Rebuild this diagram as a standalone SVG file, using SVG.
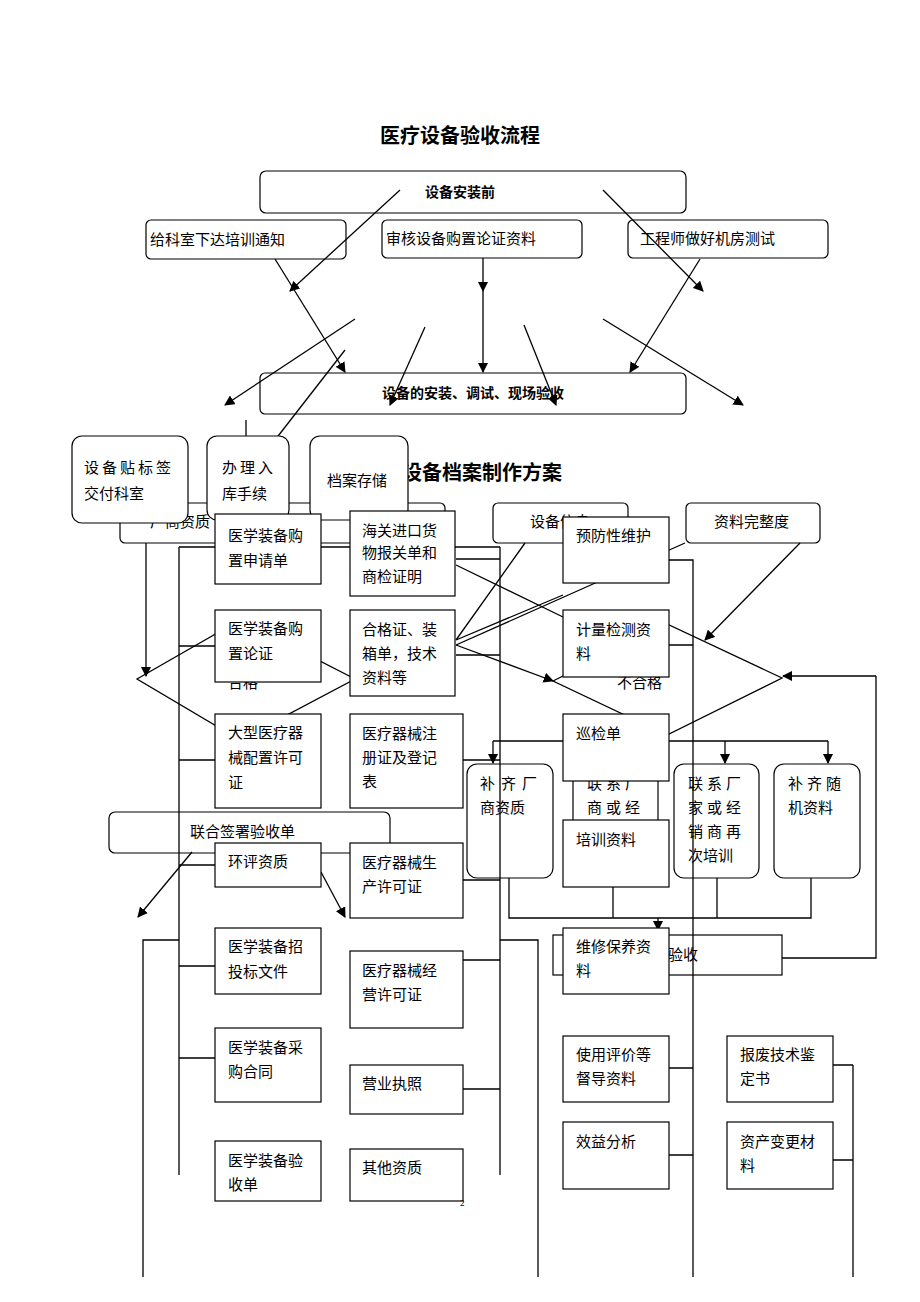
<svg xmlns="http://www.w3.org/2000/svg" width="920" height="1302" viewBox="0 0 920 1302">
<defs><marker id="a" viewBox="0 0 10 10" refX="9" refY="5" markerWidth="8" markerHeight="8" orient="auto"><path d="M0,0L10,5L0,10z" fill="#000"/></marker>
<style>
text{font-family:"Liberation Serif","Noto Sans CJK SC",serif;font-size:15px;fill:#000}
.t{font-family:"Liberation Sans","Noto Sans CJK SC",sans-serif;font-weight:bold;font-size:20px}
.b{font-weight:bold;font-family:"Liberation Sans","Noto Sans CJK SC",sans-serif;font-size:14px}
.r{fill:#fff;stroke:#000;stroke-width:1.2}
.l{stroke:#000;stroke-width:1.3;fill:none}
.ar{stroke:#000;stroke-width:1.3;fill:none;marker-end:url(#a)}
</style></defs>
<rect width="920" height="1302" fill="#fff"/>
<text class="t" x="460" y="143" text-anchor="middle">医疗设备验收流程</text>
<g id="n1"><rect class="r" x="260" y="171" width="426" height="42" rx="6"/><text class="b" x="460" y="197" text-anchor="middle">设备安装前</text></g>
<g id="n2"><rect class="r" x="146" y="220" width="200" height="39" rx="5"/><text x="150" y="245">给科室下达培训通知</text></g>
<g id="n3"><rect class="r" x="382" y="220" width="200" height="38" rx="5"/><text x="386" y="244">审核设备购置论证资料</text></g>
<g id="n4"><rect class="r" x="628" y="220" width="200" height="38" rx="5"/><text x="640" y="244">工程师做好机房测试</text></g>
<g id="n5"><rect class="r" x="260" y="373" width="426" height="41" rx="5"/><text class="b" x="473" y="398" text-anchor="middle">设备的安装、调试、现场验收</text></g>
<text class="t" x="482" y="480" text-anchor="middle">设备档案制作方案</text>
<g id="c1">
<path class="ar" d="M400,190L290,291"/><path class="ar" d="M483,258L483,291"/><path class="ar" d="M603,190L703,291"/>
<path class="ar" d="M275,259L345,372"/><path class="ar" d="M700,259L630,372"/><path class="ar" d="M483,291L483,372"/>
<path class="ar" d="M355,319L225,405"/><path class="ar" d="M425,327L390,405"/><path class="ar" d="M524,325L556,405"/><path class="ar" d="M603,319L743,405"/>
<path class="l" d="M345,350L275,440"/><path class="ar" d="M246,420L246,482"/>
</g>
<g id="hidden">
<rect class="r" x="120" y="503" width="325" height="40" rx="5"/><text x="150" y="527">厂商资质</text>
<rect class="r" x="493" y="503" width="135" height="40" rx="5"/><text x="530" y="527">设备信息</text>
<rect class="r" x="686" y="503" width="134" height="40" rx="5"/><text x="714" y="527">资料完整度</text>
<path class="l" d="M137,679L240,620L355,679L240,740Z"/><text x="228" y="688">合格</text>
<path class="l" d="M553,681L667,624L782,678L667,735Z"/><text x="617" y="688">不合格</text>
<path class="ar" d="M146,543L146,676"/><path class="ar" d="M800,543L705,640"/><path class="ar" d="M456,645L553,681"/>
<path class="l" d="M456,565L563,617M456,640L563,595M456,640L525,543M456,645L685,543"/>
<path class="l" d="M493,741L669,741L828,741"/><path class="ar" d="M493,741L493,763"/><path class="ar" d="M725,741L725,763"/><path class="ar" d="M828,741L828,763"/>
<path class="l" d="M876,676L876,958L782,958"/><path class="ar" d="M876,676L783,676"/>
<rect class="r" x="109" y="812" width="281" height="41" rx="6"/><text x="190" y="837">联合签署验收单</text>
<path class="ar" d="M192,852L138,917"/><path class="ar" d="M321,872L345,917"/>
<rect class="r" x="553" y="935" width="229" height="40"/><text x="668" y="960">验收</text>
<rect class="r" x="467" y="764" width="86" height="114" rx="10"/><text x="480" y="789" letter-spacing="6">补齐厂</text><text x="480" y="813">商资质</text>
<rect class="r" x="573" y="764" width="85" height="114" rx="10"/><text x="587" y="789" letter-spacing="4">联系厂</text><text x="587" y="813" letter-spacing="4">商或经</text>
<rect class="r" x="674" y="764" width="85" height="114" rx="10"/><text x="688" y="789" letter-spacing="4">联系厂</text><text x="688" y="813" letter-spacing="4">家或经</text><text x="688" y="837" letter-spacing="4">销商再</text><text x="688" y="861">次培训</text>
<rect class="r" x="774" y="764" width="86" height="114" rx="10"/><text x="788" y="789" letter-spacing="4">补齐随</text><text x="788" y="813">机资料</text>
<path class="l" d="M509,878L509,918L811,918L811,878M613,887L613,918M717,878L717,918"/><path class="ar" d="M658,918L658,930"/>
<rect class="r" x="72" y="436" width="116" height="87" rx="10"/><text x="84" y="473" letter-spacing="3">设备贴标签</text><text x="84" y="499">交付科室</text>
<rect class="r" x="207" y="436" width="82" height="84" rx="10"/><text x="222" y="473" letter-spacing="3">办理入</text><text x="222" y="499">库手续</text>
<rect class="r" x="310" y="436" width="98" height="84" rx="10"/><text x="327" y="486">档案存储</text>
</g>
<g id="c2">
<path class="l" d="M179,547L500,547M179,547L179,1175M179,646L215,646M179,760L215,760M179,865L215,865M179,966L215,966M179,1058L215,1058M500,547L500,1175M456,559L500,559M456,655L500,655M463,760L500,760M463,880L500,880M463,960L500,960M463,1089L500,1089"/>
<path class="l" d="M143,1277L143,940L179,940M538,1277L538,940L500,940M669,560L693,560L693,1277M669,645L693,645M669,1068L693,1068M669,1155L693,1155M853,1065L853,1277M833,1065L853,1065M833,1160L853,1160"/>
</g>
<g id="A1"><rect class="r" x="215" y="514" width="106" height="70"/><text x="228" y="541">医学装备购</text><text x="228" y="566">置申请单</text></g>
<g id="A2"><rect class="r" x="215" y="610" width="106" height="72"/><text x="228" y="634">医学装备购</text><text x="228" y="659">置论证</text></g>
<g id="A3"><rect class="r" x="215" y="714" width="106" height="94"/><text x="228" y="738">大型医疗器</text><text x="228" y="763">械配置许可</text><text x="228" y="788">证</text></g>
<g id="A4"><rect class="r" x="215" y="843" width="106" height="44"/><text x="228" y="867">环评资质</text></g>
<g id="A5"><rect class="r" x="215" y="928" width="106" height="66"/><text x="228" y="952">医学装备招</text><text x="228" y="977">投标文件</text></g>
<g id="A6"><rect class="r" x="215" y="1028" width="106" height="74"/><text x="228" y="1053">医学装备采</text><text x="228" y="1077">购合同</text></g>
<g id="A7"><rect class="r" x="215" y="1141" width="106" height="60"/><text x="228" y="1166">医学装备验</text><text x="228" y="1190">收单</text></g>
<g id="B1"><rect class="r" x="350" y="511" width="105" height="85"/><text x="362" y="536">海关进口货</text><text x="362" y="558">物报关单和</text><text x="362" y="582">商检证明</text></g>
<g id="B2"><rect class="r" x="350" y="610" width="105" height="86"/><text x="362" y="635">合格证、装</text><text x="362" y="659">箱单，技术</text><text x="362" y="683">资料等</text></g>
<g id="B3"><rect class="r" x="350" y="714" width="113" height="94"/><text x="362" y="739">医疗器械注</text><text x="362" y="763">册证及登记</text><text x="362" y="787">表</text></g>
<g id="B4"><rect class="r" x="350" y="843" width="113" height="75"/><text x="362" y="868">医疗器械生</text><text x="362" y="892">产许可证</text></g>
<g id="B5"><rect class="r" x="350" y="951" width="113" height="77"/><text x="362" y="976">医疗器械经</text><text x="362" y="1000">营许可证</text></g>
<g id="B6"><rect class="r" x="350" y="1065" width="113" height="49"/><text x="362" y="1089">营业执照</text></g>
<g id="B7"><rect class="r" x="350" y="1149" width="113" height="52"/><text x="362" y="1173">其他资质</text></g>
<g id="C1"><rect class="r" x="563" y="517" width="106" height="66"/><text x="576" y="541">预防性维护</text></g>
<g id="C2"><rect class="r" x="563" y="610" width="106" height="67"/><text x="576" y="635">计量检测资</text><text x="576" y="659">料</text></g>
<g id="C3"><rect class="r" x="563" y="714" width="106" height="67"/><text x="576" y="739">巡检单</text></g>
<g id="C4"><rect class="r" x="563" y="820" width="106" height="67"/><text x="576" y="845">培训资料</text></g>
<g id="C5"><rect class="r" x="563" y="928" width="106" height="66"/><text x="576" y="952">维修保养资</text><text x="576" y="976">料</text></g>
<g id="C6"><rect class="r" x="563" y="1036" width="106" height="66"/><text x="576" y="1060">使用评价等</text><text x="576" y="1084">督导资料</text></g>
<g id="C7"><rect class="r" x="563" y="1122" width="106" height="67"/><text x="576" y="1147">效益分析</text></g>
<g id="D1"><rect class="r" x="727" y="1036" width="106" height="66"/><text x="740" y="1060">报废技术鉴</text><text x="740" y="1084">定书</text></g>
<g id="D2"><rect class="r" x="727" y="1122" width="106" height="67"/><text x="740" y="1147">资产变更材</text><text x="740" y="1171">料</text></g>
<text x="460" y="1206" style="font-size:9px">2</text>
</svg>
